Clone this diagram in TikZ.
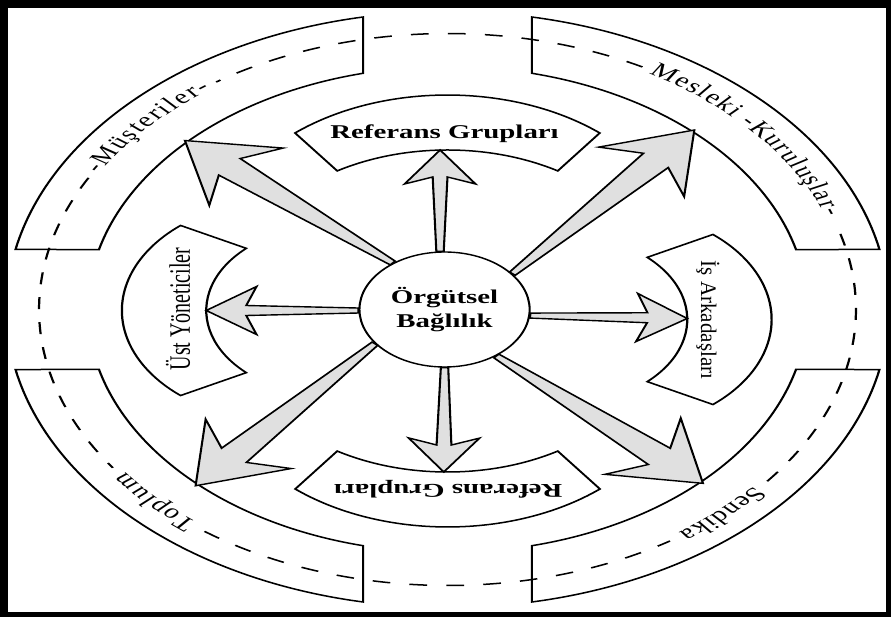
\documentclass[tikz,border=0pt]{standalone}
\usepackage{fontspec}
\setmainfont{Liberation Serif}
\usetikzlibrary{calc,decorations.text}
\tikzset{
  outline/.style={draw=black, line width=1.5pt, line join=miter},
  dashring/.style={draw=black, line width=1.5pt, dash pattern=on 12pt off 13pt},
  blockarrowstyle/.style={draw=black, fill=black!12, line width=1.4pt, line join=miter},
  boldlabel/.style={font=\bfseries\fontsize{19.5}{24}\selectfont, inner sep=0pt},
  plainlabel/.style={font=\fontsize{20}{24}\selectfont, inner sep=0pt},
  ringtext/.style={decorate, decoration={text along path, text align=fit to path, raise=-4pt,
     text={|\fontsize{20}{24}\selectfont|#1}}}
}
% #1 base, #2 tip, #3 neck distance, #4 neck angle, #5 barb distance, #6 barb angle
\newcommand\blockarrow[6]{%
  \draw[blockarrowstyle] ($(#1)!2.5pt!90:(#2)$) -- ($(#2)!#3!-#4:(#1)$) -- ($(#2)!#5!-#6:(#1)$)
    -- (#2) -- ($(#2)!#5!#6:(#1)$) -- ($(#2)!#3!#4:(#1)$) -- ($(#1)!2.5pt!-90:(#2)$) -- cycle;}
\begin{document}
\begin{tikzpicture}[x=1pt,y=1pt]
\useasboundingbox (-447.5,-307.5) rectangle (443.5,309.5);
\fill[black,even odd rule] (-447.5,-307.5) rectangle (443.5,309.5)
  (-439.5,-302.5) rectangle (438.5,301.5);
\begin{scope}[transform canvas={xscale=1.48}]
  % outer bands
  \draw[outline] (101.03:298) arc[start angle=101.03,end angle=168.38,radius=298]
    -- (165.71:243) arc[start angle=165.71,end angle=103.57,radius=243] -- cycle;
  \draw[outline] (78.97:298) arc[start angle=78.97,end angle=11.62,radius=298]
    -- (14.29:243) arc[start angle=14.29,end angle=76.43,radius=243] -- cycle;
  \draw[outline] (191.62:298) arc[start angle=191.62,end angle=258.97,radius=298]
    -- (256.43:243) arc[start angle=256.43,end angle=194.29,radius=243] -- cycle;
  \draw[outline] (281.03:298) arc[start angle=281.03,end angle=348.38,radius=298]
    -- (345.71:243) arc[start angle=345.71,end angle=283.57,radius=243] -- cycle;
  % dashed ring
  \draw[dashring] (61.5:276) arc[start angle=61.5,end angle=124.5,radius=276];
  \draw[dashring] (151.5:276) arc[start angle=151.5,end angle=215,radius=276];
  \draw[dashring] (233.5:276) arc[start angle=233.5,end angle=303,radius=276];
  \draw[dashring] (321.5:276) arc[start angle=321.5,end angle=378.5,radius=276];
  % ring labels
  \path[ringtext={Mesleki -Kuruluşlar-}] (60:276) arc[start angle=60,end angle=20,radius=276];
  \path[ringtext={-Müşteriler-}] (150:276) arc[start angle=150,end angle=126,radius=276];
  \path[ringtext={Toplum}] (231.5:276) arc[start angle=231.5,end angle=216.8,radius=276];
  \path[ringtext={Sendika}] (319.5:276) arc[start angle=319.5,end angle=305,radius=276];
  % inner shapes
  \draw[outline] (-103,176.5) arc[start angle=130.5,end angle=49.5,radius=158.5]
    -- (74.5,138.6) arc[start angle=58.65,end angle=121.35,radius=143.2] -- cycle;
  \draw[outline] (103,-179.5) arc[start angle=-49.5,end angle=-130.5,radius=158.5]
    -- (-74.5,-141.6) arc[start angle=-121.35,end angle=-58.65,radius=143.2] -- cycle;
  \draw[outline] (-180.35,84.03) arc[start angle=130,end angle=230,radius=111]
    -- (-135.97,-63.17) arc[start angle=227,end angle=133,radius=85] -- cycle;
  \draw[outline] (179.35,75.03) arc[start angle=50,end angle=-50,radius=111]
    -- (134.97,-72.17) arc[start angle=-47,end angle=47,radius=85] -- cycle;
  % centre
  \node[circle, draw=black, line width=1.4pt, fill=white, minimum size=115pt, inner sep=0pt,
        align=center, font=\bfseries\fontsize{19.5}{24}\selectfont] (c) at (-2,0) {Örgütsel\\Bağlılık};
  % arrow tips
  \coordinate (tU) at (-5,159.5);
  \coordinate (tD) at (-2.5,-162.5);
  \coordinate (tL) at (-163,-1);
  \coordinate (tR) at (162,-9);
  \coordinate (tTL) at (136.4:245);
  \coordinate (tTR) at (47.1:245);
  \coordinate (tBL) at (226:245);
  \coordinate (tBR) at (314.8:245);
  \blockarrow{c.93}{tU}{27.46pt}{10.49}{41.62pt}{35.22}
  \blockarrow{c.270}{tD}{27.46pt}{10.49}{41.62pt}{35.22}
  \blockarrow{c.181}{tL}{27.46pt}{10.49}{41.62pt}{35.22}
  \blockarrow{c.354}{tR}{27.46pt}{10.49}{41.62pt}{35.22}
  \blockarrow{c.127}{tTL}{41.48pt}{15.38}{66.85pt}{34.64}
  \blockarrow{c.38}{tTR}{41.48pt}{15.38}{66.85pt}{34.64}
  \blockarrow{c.216}{tBL}{41.48pt}{15.38}{66.85pt}{34.64}
  \blockarrow{c.307}{tBR}{41.48pt}{15.38}{66.85pt}{34.64}
  % labels
  \node[boldlabel, anchor=base] (refTop) at (-2,171.2) {Referans Grupları};
  \node[boldlabel, anchor=base, rotate=180] (refBot) at (0.5,-175.5) {Referans Grupları};
  \node[plainlabel, anchor=base, rotate=90] (ust) at (-174,0.5) {Üst Yöneticiler};
  \node[font=\fontsize{15}{18}\selectfont, inner sep=0pt, anchor=base, rotate=-90] (isark)
     at (171.4,-10.5) {\scalebox{1.4}[1]{İş Arkadaşları}};
\end{scope}
\end{tikzpicture}
\end{document}
